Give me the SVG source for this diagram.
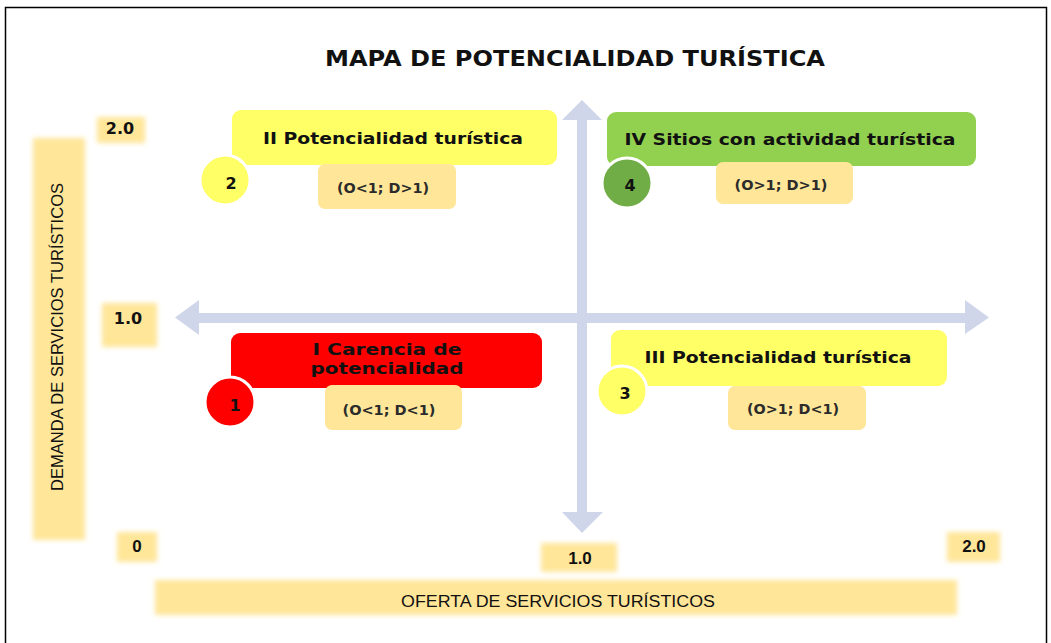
<svg xmlns="http://www.w3.org/2000/svg" width="1051" height="643" viewBox="0 0 1051 643">
<defs>
<filter id="soft" x="-20%" y="-20%" width="140%" height="140%"><feGaussianBlur stdDeviation="2.5"/></filter>
<style>
.q{font-family:"DejaVu Sans","Liberation Sans",sans-serif;font-weight:bold;font-size:16px;fill:#111;text-anchor:middle}
.lbl{font-family:"DejaVu Sans","Liberation Sans",sans-serif;font-weight:bold;font-size:14px;fill:#2b2b2b;text-anchor:middle}
.num{font-family:"DejaVu Sans","Liberation Sans",sans-serif;font-weight:bold;font-size:16px;fill:#111;text-anchor:middle}
.ax{font-family:"Liberation Sans",sans-serif;font-size:16px;fill:#111;text-anchor:middle}
.axn{font-family:"Liberation Sans",sans-serif;font-weight:bold;font-size:17px;fill:#111;text-anchor:middle}
.axb{font-family:"DejaVu Sans","Liberation Sans",sans-serif;font-weight:bold;font-size:16px;fill:#111;text-anchor:middle}
.soft{fill:#FFE699;filter:url(#soft)}
.lb{fill:#FFE699}
.arrow{fill:#D0D6EA}
.circ{stroke:#fff;stroke-width:3}
</style>
</defs>
<rect x="0" y="0" width="1051" height="643" fill="#fff"/>
<rect x="5.5" y="7.5" width="1041" height="640" fill="none" stroke="#000" stroke-width="1.5"/>
<text x="575" y="66" textLength="500" lengthAdjust="spacingAndGlyphs" style="font-family:'DejaVu Sans','Liberation Sans',sans-serif;font-weight:bold;font-size:22px;fill:#111;text-anchor:middle">MAPA DE POTENCIALIDAD TURÍSTICA</text>

<g id="axis-labels">
<rect class="soft" x="97" y="117" width="48" height="26"/>
<text class="axb" x="120" y="134">2.0</text>
<rect class="soft" x="102" y="303" width="55" height="44"/>
<text class="axb" x="128" y="324">1.0</text>
<rect class="soft" x="117" y="532" width="40" height="30"/>
<text class="axn" x="137" y="552">0</text>
<rect class="soft" x="541" y="543" width="76" height="29"/>
<text class="axn" x="580" y="564">1.0</text>
<rect class="soft" x="947" y="532" width="53" height="30"/>
<text class="axn" x="974" y="552">2.0</text>
<rect class="soft" x="155" y="580" width="802" height="35"/>
<text class="ax" x="558" y="607" textLength="314" lengthAdjust="spacingAndGlyphs">OFERTA DE SERVICIOS TURÍSTICOS</text>
<rect class="soft" x="33" y="138" width="52" height="402"/>
<text class="ax" transform="translate(63,337) rotate(-90)" x="0" y="0" textLength="308" lengthAdjust="spacingAndGlyphs">DEMANDA DE SERVICIOS TURÍSTICOS</text>
</g>

<g id="connectors">
<polygon class="arrow" points="582,100 602,120 587,120 587,512 603,512 582,533 562,512 577,512 577,120 562,120"/>
<polygon class="arrow" points="175,317.5 199,300 199,313 965,313 965,300 989,317.5 965,334 965,323 199,323 199,335"/>
</g>

<g id="q2">
<rect x="232" y="110" width="325" height="55" rx="9" fill="#FFFF66"/>
<text class="q" x="393" y="144" textLength="260" lengthAdjust="spacingAndGlyphs">II Potencialidad turística</text>
<circle class="circ" cx="225" cy="180" r="25" fill="#FFFF66"/>
<text class="num" x="231" y="189">2</text>
<rect class="lb" x="318" y="164" width="138" height="45" rx="7"/>
<text class="lbl" x="383" y="193" textLength="92" lengthAdjust="spacingAndGlyphs">(O&lt;1; D&gt;1)</text>
</g>

<g id="q4">
<rect x="607" y="112" width="369" height="54" rx="9" fill="#92D050"/>
<text class="q" x="790" y="145" textLength="331" lengthAdjust="spacingAndGlyphs">IV Sitios con actividad turística</text>
<circle class="circ" cx="627" cy="183" r="25" fill="#70AD47"/>
<text class="num" x="630" y="191">4</text>
<rect class="lb" x="716" y="162" width="137" height="42" rx="7"/>
<text class="lbl" x="781" y="190" textLength="93" lengthAdjust="spacingAndGlyphs">(O&gt;1; D&gt;1)</text>
</g>

<g id="q1">
<rect x="231" y="333" width="311" height="55" rx="9" fill="#FF0000"/>
<text class="q" x="387" y="355" textLength="149" lengthAdjust="spacingAndGlyphs">I Carencia de</text>
<text class="q" x="387" y="374" textLength="153" lengthAdjust="spacingAndGlyphs">potencialidad</text>
<circle class="circ" cx="230" cy="402" r="25" fill="#FF0000"/>
<text class="num" x="235" y="411">1</text>
<rect class="lb" x="325" y="385" width="137" height="45" rx="7"/>
<text class="lbl" x="389" y="415" textLength="93" lengthAdjust="spacingAndGlyphs">(O&lt;1; D&lt;1)</text>
</g>

<g id="q3">
<rect x="611" y="330" width="336" height="56" rx="9" fill="#FFFF66"/>
<text class="q" x="778" y="363" textLength="267" lengthAdjust="spacingAndGlyphs">III Potencialidad turística</text>
<circle class="circ" cx="622" cy="391" r="25" fill="#FFFF66"/>
<text class="num" x="625" y="399">3</text>
<rect class="lb" x="728" y="386" width="138" height="44" rx="7"/>
<text class="lbl" x="793" y="414" textLength="92" lengthAdjust="spacingAndGlyphs">(O&gt;1; D&lt;1)</text>
</g>
</svg>
